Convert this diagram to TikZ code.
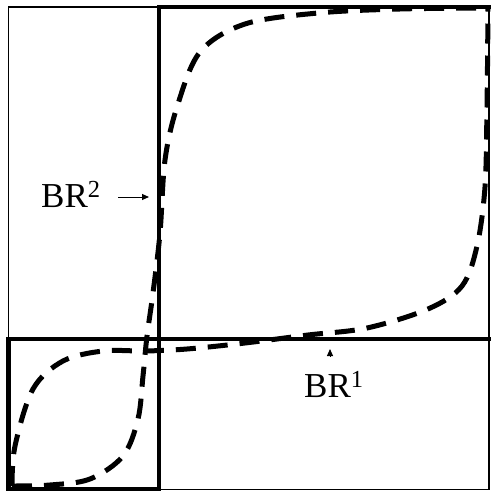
\documentclass[tikz,border=0pt]{standalone}
\usepackage{fontspec}
\setmainfont{Liberation Serif}
\usetikzlibrary{arrows.meta}
\tikzset{
  thinline/.style={line width=1.6pt},
  thickline/.style={line width=4.5pt, line cap=rect},
  brcurve/.style={line width=5pt, dash pattern=on 20pt off 12pt},
  brlabel/.style={inner sep=0pt, anchor=base west, font=\fontsize{35}{40}\selectfont},
  pointer/.style={line width=1pt, -{Triangle[length=7pt,width=6pt]}}
}
\begin{document}
\begin{tikzpicture}[x=1pt,y=-1pt]
\useasboundingbox (0,0) rectangle (490,492);
% thin outer frame
\draw[thinline] (8.5,7) rectangle (489,489.5);
% thick lines
\draw[thickline] (159,7) -- (489,7);
\draw[thickline] (159,7) -- (159,489);
\draw[thickline] (8.5,339) -- (489,339);
\draw[thickline] (8.5,339) -- (8.5,489) -- (159,489);
% dashed curves
\draw[brcurve] plot[smooth, tension=0.55] coordinates {
 (12,486) (50,485) (90,479) (123,456) (138,419) (143,376) (147,336)
 (153,293) (160,233) (165,160) (177,107) (200,52) (245,24) (318,13) (400,9) (488,8)};
\draw[brcurve] plot[smooth, tension=0.55] coordinates {
 (12,486) (15,446) (33,389) (63,361) (103,351) (145,351) (187,349)
 (245,343) (308,335) (367,328) (428,309) (462,286) (477,246) (485,187) (487,107) (488,8)};
% labels
\node[brlabel] (br2) at (41,207) {BR\textsuperscript{2}};
\coordinate (br2s) at (118,197);
\coordinate (br2e) at (149,197);
\draw[pointer] (br2s) -- (br2e);
\node[brlabel] (br1) at (304,397) {BR\textsuperscript{1}};
\coordinate (br1s) at (330,357);
\coordinate (br1e) at (330,349);
\draw[pointer] (br1s) -- (br1e);
\end{tikzpicture}
\end{document}
